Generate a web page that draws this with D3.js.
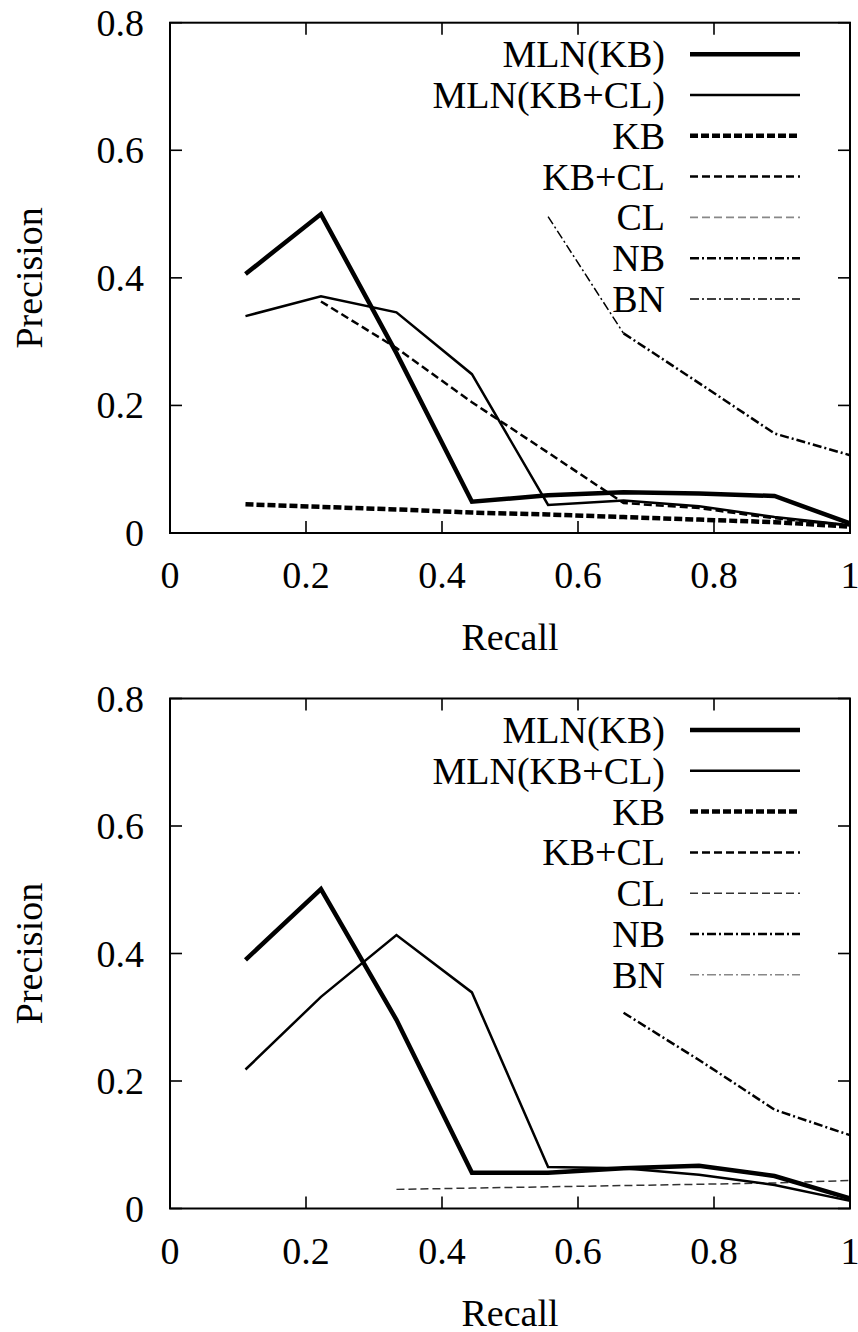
<!DOCTYPE html>
<html>
<head>
<meta charset="utf-8">
<script src="https://cdn.jsdelivr.net/npm/d3@7"></script>
<style>
  body { margin: 0; background: #fff; }
</style>
</head>
<body>
<div id="chart"></div>
<script>
// recall levels shared by every curve
const recall = [0.111, 0.222, 0.333, 0.444, 0.556, 0.667, 0.778, 0.889, 1.0];

const seriesNames = ["MLN(KB)", "MLN(KB+CL)", "KB", "KB+CL", "CL", "NB", "BN"];

const xTicks = [0, 0.2, 0.4, 0.6, 0.8, 1];
const yTicks = [0, 0.2, 0.4, 0.6, 0.8];
const xTickLabels = ["0", "0.2", "0.4", "0.6", "0.8", "1"];
const yTickLabels = ["0", "0.2", "0.4", "0.6", "0.8"];

// top panel precision values (null = no point)
const topMlnKb   = [0.406, 0.500, 0.282, 0.049, 0.059, 0.064, 0.062, 0.058, 0.015];
const topMlnKbCl = [0.340, 0.371, 0.346, 0.249, 0.044, 0.051, 0.042, 0.025, 0.012];
const topKb      = [0.045, 0.041, 0.037, 0.032, 0.029, 0.025, 0.021, 0.017, 0.010];
const topKbCl    = [null, 0.363, 0.290, 0.205, 0.126, 0.047, 0.039, 0.023, 0.012];
const topCl      = [null, null, null, null, null, null, null, null, null];
const topNb      = [null, null, null, null, null, 0.313, 0.235, 0.156, 0.122];
const topBn      = [null, null, null, null, 0.496, 0.313, null, null, null];

// bottom panel precision values
const botMlnKb   = [0.390, 0.501, 0.296, 0.056, 0.056, 0.063, 0.067, 0.051, 0.016];
const botMlnKbCl = [0.218, 0.332, 0.429, 0.339, 0.065, 0.063, 0.053, 0.037, 0.012];
const botKb      = [null, null, null, null, null, null, null, null, null];
const botKbCl    = [null, null, null, null, null, null, null, null, null];
const botCl      = [null, null, 0.030, 0.032, 0.034, 0.036, 0.038, 0.040, 0.044];
const botNb      = [null, null, null, null, null, 0.307, 0.233, 0.155, 0.115];
const botBn      = [null, null, null, null, null, null, null, null, null];

// line styles, one per series name (top / bottom legends differ in greys)
const topStyles = {
  "MLN(KB)":    { w: 4.5, dash: null,      c: "#000" },
  "MLN(KB+CL)": { w: 2.5, dash: null,      c: "#000" },
  "KB":         { w: 4.5, dash: "8,3",     c: "#000" },
  "KB+CL":      { w: 2.5, dash: "8,4",     c: "#000" },
  "CL":         { w: 1.6, dash: "8,4",     c: "#888" },
  "NB":         { w: 2.5, dash: "9,3,2,3", c: "#000" },
  "BN":         { w: 1.5, dash: "9,3,2,3", c: "#000" }
};
const botStyles = {
  "MLN(KB)":    { w: 4.5, dash: null,      c: "#000" },
  "MLN(KB+CL)": { w: 2.5, dash: null,      c: "#000" },
  "KB":         { w: 4.5, dash: "8,3",     c: "#000" },
  "KB+CL":      { w: 2.5, dash: "8,4",     c: "#000" },
  "CL":         { w: 1.5, dash: "8,4",     c: "#333" },
  "NB":         { w: 2.5, dash: "9,3,2,3", c: "#000" },
  "BN":         { w: 1.6, dash: "9,3,2,3", c: "#888" }
};

const serif = "'Liberation Serif', 'Times New Roman', Times, 'DejaVu Serif', serif";

const width = 858, height = 1332;
const svg = d3.select("#chart").append("svg")
  .attr("width", width)
  .attr("height", height)
  .attr("viewBox", [0, 0, width, height])
  .attr("font-family", serif)
  .style("font-family", serif);

const x = d3.scaleLinear().domain([0, 1]).range([170, 850]);

function drawPanel(top, bottom, series, styles) {
  const y = d3.scaleLinear().domain([0, 0.8]).range([bottom, top]);
  const g = svg.append("g");

  // ticks (inward, mirrored on all four sides)
  const tl = 12;
  xTicks.forEach(t => {
    g.append("line").attr("x1", x(t)).attr("x2", x(t)).attr("y1", bottom).attr("y2", bottom - tl)
      .attr("stroke", "#000").attr("stroke-width", 1.6);
    g.append("line").attr("x1", x(t)).attr("x2", x(t)).attr("y1", top).attr("y2", top + tl)
      .attr("stroke", "#000").attr("stroke-width", 1.6);
  });
  yTicks.forEach(t => {
    g.append("line").attr("x1", 170).attr("x2", 170 + tl).attr("y1", y(t)).attr("y2", y(t))
      .attr("stroke", "#000").attr("stroke-width", 1.6);
    g.append("line").attr("x1", 850).attr("x2", 850 - tl).attr("y1", y(t)).attr("y2", y(t))
      .attr("stroke", "#000").attr("stroke-width", 1.6);
  });

  // tick labels
  g.selectAll(".xl").data(xTicks).join("text")
    .attr("x", d => x(d)).attr("y", bottom + 55)
    .attr("text-anchor", "middle").attr("font-size", 38)
    .attr("font-family", serif)
    .text((d, i) => xTickLabels[i]);
  g.selectAll(".yl").data(yTicks).join("text")
    .attr("x", 144).attr("y", d => y(d) + 13)
    .attr("text-anchor", "end").attr("font-size", 38)
    .attr("font-family", serif)
    .text((d, i) => yTickLabels[i]);

  // axis titles
  g.append("text")
    .attr("x", 510).attr("y", bottom + 117)
    .attr("text-anchor", "middle").attr("font-size", 38)
    .attr("font-family", serif)
    .text("Recall");
  g.append("text")
    .attr("transform", `translate(42,${(top + bottom) / 2}) rotate(-90)`)
    .attr("text-anchor", "middle").attr("font-size", 38)
    .attr("font-family", serif)
    .text("Precision");

  // curves, drawn in reverse order so MLN(KB) sits on top
  const line = d3.line()
    .defined(d => d.v != null)
    .x(d => x(d.r))
    .y(d => y(d.v));

  seriesNames.slice().reverse().forEach(name => {
    const vals = series[name];
    const st = styles[name];
    const pts = recall.map((r, i) => ({ r: r, v: vals[i] }));
    if (pts.filter(p => p.v != null).length < 2) return;
    g.append("path")
      .attr("d", line(pts))
      .attr("fill", "none")
      .attr("stroke", st.c)
      .attr("stroke-width", st.w)
      .attr("stroke-dasharray", st.dash)
      .attr("stroke-linejoin", "miter");
  });

  // legend
  const rowH = 40.8;
  seriesNames.forEach((name, i) => {
    const ly = top + 31.5 + i * rowH;
    const st = styles[name];
    g.append("text")
      .attr("x", 665).attr("y", ly + 13)
      .attr("text-anchor", "end").attr("font-size", 38)
      .attr("font-family", serif)
      .text(name);
    g.append("line")
      .attr("x1", 690).attr("x2", 800).attr("y1", ly).attr("y2", ly)
      .attr("stroke", st.c)
      .attr("stroke-width", st.w)
      .attr("stroke-dasharray", st.dash);
  });

  // frame
  g.append("rect")
    .attr("x", 170).attr("y", top)
    .attr("width", 680).attr("height", bottom - top)
    .attr("fill", "none").attr("stroke", "#000").attr("stroke-width", 2);
}

drawPanel(22.7, 533, {
  "MLN(KB)": topMlnKb, "MLN(KB+CL)": topMlnKbCl, "KB": topKb, "KB+CL": topKbCl,
  "CL": topCl, "NB": topNb, "BN": topBn
}, topStyles);

drawPanel(698.5, 1208.5, {
  "MLN(KB)": botMlnKb, "MLN(KB+CL)": botMlnKbCl, "KB": botKb, "KB+CL": botKbCl,
  "CL": botCl, "NB": botNb, "BN": botBn
}, botStyles);
</script>
</body>
</html>
